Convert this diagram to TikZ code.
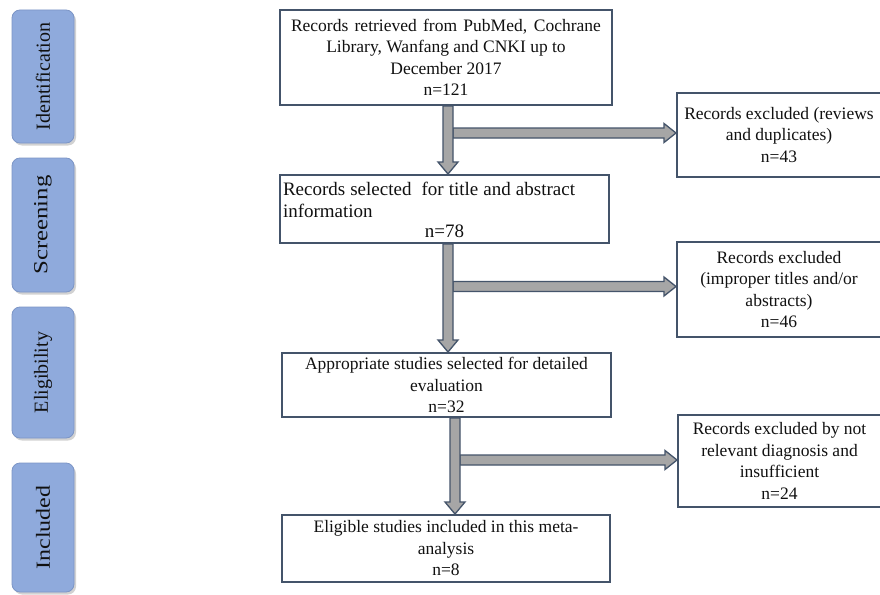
\documentclass[tikz,border=0pt]{standalone}
\usepackage{fontspec}
\setmainfont{Liberation Serif}
\usetikzlibrary{calc,shadows}
\definecolor{lblue}{HTML}{8FAADC}
\definecolor{lborder}{HTML}{7C95C6}
\definecolor{boxline}{HTML}{44546A}
\definecolor{arrowfill}{HTML}{A6A6A6}
\definecolor{txt}{HTML}{111111}
\newcommand\varrowblk[3]{%
  \draw[blk] let \p1=(#2 -| #1), \p2=(#3 -| #1) in
    (\x1-5pt,\y1) -- (\x1-5pt,\y2+12pt) -- (\x1-10pt,\y2+12pt) -- (\x1,\y2)
    -- (\x1+10pt,\y2+12pt) -- (\x1+5pt,\y2+12pt) -- (\x1+5pt,\y1) -- cycle;}
\newcommand\harrowblk[2]{%
  \draw[blk] let \p1=(#1), \p2=(#2) in
    (\x1+5pt,\y2+5pt) -- (\x2-12pt,\y2+5pt) -- (\x2-12pt,\y2+9.5pt) -- (\x2,\y2)
    -- (\x2-12pt,\y2-9.5pt) -- (\x2-12pt,\y2-5pt) -- (\x1+5pt,\y2-5pt) -- cycle;}
\begin{document}
\begin{tikzpicture}[x=1pt,y=-1pt,
  sidebox/.style={rounded corners=8pt, fill=lblue, draw=lborder, line width=0.8pt,
    minimum width=62pt, inner sep=0pt, text=txt,
    font=\fontsize{20}{24}\selectfont,
    drop shadow={shadow xshift=2pt, shadow yshift=-2.5pt, opacity=0.35}},
  flowbox/.style={draw=boxline, line width=2pt, fill=white, align=center,
    inner sep=0pt, text=txt, font=\fontsize{17.5}{21.5}\selectfont},
  blk/.style={fill=arrowfill, draw=boxline, line width=1.3pt, line join=miter}]
\fill[white] (0,0) rectangle (880,594);
\useasboundingbox (0,0) rectangle (880,594);

% side labels
\node[sidebox, minimum height=133pt] (sid) at (43,76.5) {\rotatebox{90}{Identification}};
\node[sidebox, minimum height=134pt] (sscr) at (43,225) {\rotatebox{90}{\scalebox{1.24}[1]{Screening}}};
\node[sidebox, minimum height=131pt] (selig) at (43,372.5) {\rotatebox{90}{Eligibility}};
\node[sidebox, minimum height=129pt] (sinc) at (43,527.5) {\rotatebox{90}{\scalebox{1.2}[1]{Included}}};

% main boxes
\node[flowbox, minimum width=332pt, minimum height=95pt] (b1) at (446,57.5)
  {\makebox[310pt][s]{Records retrieved from PubMed, Cochrane}\\Library, Wanfang and CNKI up to\\December 2017\\n=121};
\node[flowbox, minimum width=329pt, minimum height=68pt, font=\fontsize{19}{21.5}\selectfont] (b2) at (444.5,209)
  {\hspace*{-31pt}\begin{tabular}{@{}l@{}}\makebox[292pt][s]{Records selected\ \ for title and abstract}\\information\end{tabular}\\n=78};
\node[flowbox, minimum width=329pt, minimum height=64pt] (b3) at (446.5,385)
  {Appropriate studies selected for detailed\\evaluation\\n=32};
\node[flowbox, minimum width=328pt, minimum height=67pt] (b4) at (446,548.5)
  {Eligible studies included in this meta-\\analysis\\n=8};

% exclusion boxes
\node[flowbox, minimum width=204pt, minimum height=84pt] (r1) at (779,135)
  {Records excluded (reviews\\and duplicates)\\n=43};
\node[flowbox, minimum width=204pt, minimum height=95pt] (r2) at (779,289.5)
  {Records excluded\\(improper titles and/or\\abstracts)\\n=46};
\node[flowbox, minimum width=203pt, minimum height=92pt] (r3) at (779.5,461)
  {Records excluded by not\\relevant diagnosis and\\insufficient\\n=24};

% arrow axes and branch points
\coordinate (ax1) at (448,0);
\coordinate (ax2) at (448,0);
\coordinate (ax3) at (455,0);
\coordinate (h1) at ($(r1.west)+(0,-2)$);
\coordinate (h2) at ($(r2.west)+(0,-3)$);
\coordinate (h3) at ($(r3.west)+(0,-1)$);

\harrowblk{ax1}{h1}
\varrowblk{ax1}{b1.south}{b2.north}
\harrowblk{ax2}{h2}
\varrowblk{ax2}{b2.south}{b3.north}
\harrowblk{ax3}{h3}
\varrowblk{ax3}{b3.south}{b4.north}
\end{tikzpicture}
\end{document}
